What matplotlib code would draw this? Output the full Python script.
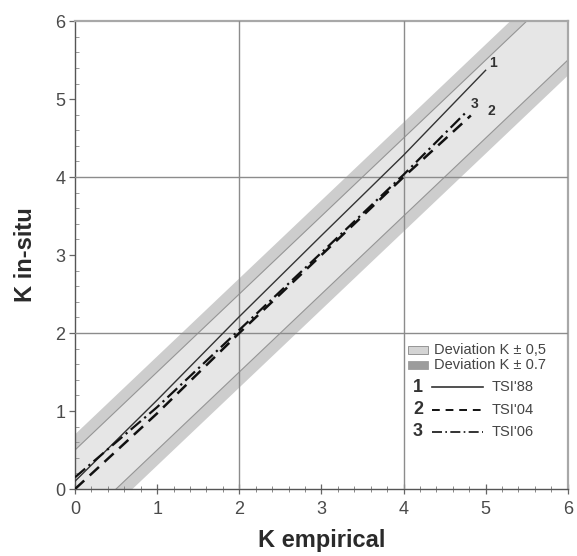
import numpy as np
import matplotlib.pyplot as plt
from matplotlib.patches import Rectangle
from matplotlib.ticker import MultipleLocator

plt.rcParams['font.family'] = ['Liberation Sans', 'DejaVu Sans']

# curvas K in-situ vs K empirico
k_emp_88 = [0.0, 1.0, 2.0, 3.0, 4.0, 5.0]
k_ins_88 = [0.10, 1.14, 2.21, 3.25, 4.28, 5.37]
k_emp_04 = [0.0, 1.0, 2.0, 3.0, 4.0, 4.82]
k_ins_04 = [0.0, 0.97, 2.0, 3.0, 4.0, 4.79]
k_emp_06 = [0.0, 1.0, 2.0, 3.0, 4.0, 4.76]
k_ins_06 = [0.15, 1.05, 2.04, 3.03, 4.03, 4.83]

desv_int = 0.5   # banda interior
desv_ext = 0.7   # banda exterior

etiquetas_banda = ['Deviation K ± 0,5', 'Deviation K ± 0.7']
etiquetas_curva = ["TSI'88", "TSI'04", "TSI'06"]
numeros = ['1', '2', '3']

fig = plt.figure(figsize=(5.77, 5.56), dpi=100)
ax = fig.add_axes([0.130, 0.1205, 0.854, 0.8415])

x = np.linspace(-1, 7, 50)
ax.fill_between(x, x - desv_ext, x + desv_ext, color='#cdcdcd', lw=0, zorder=1)
ax.fill_between(x, x - desv_int, x + desv_int, color='#e6e6e6', lw=0, zorder=1)
ax.plot(x, x + desv_int, color='#959595', lw=0.8, zorder=2)
ax.plot(x, x - desv_int, color='#959595', lw=0.8, zorder=2)

ax.plot(k_emp_88, k_ins_88, color='#333333', lw=1.0, ls='-', zorder=4)
ax.plot(k_emp_04, k_ins_04, color='#111111', lw=1.8, ls=(0, (5, 3)), zorder=4)
ax.plot(k_emp_06, k_ins_06, color='#111111', lw=1.6, ls=(0, (6, 2, 1, 2)), zorder=4)

# numeros al final de cada curva
ax.text(k_emp_88[-1] + 0.04, k_ins_88[-1] + 0.04, '1', fontsize=10, fontweight='bold', color='#333333', zorder=5)
ax.text(k_emp_06[-1] + 0.06, k_ins_06[-1] + 0.06, '3', fontsize=10, fontweight='bold', color='#333333', zorder=5)
ax.text(k_emp_04[-1] + 0.2, k_ins_04[-1] + 0.0, '2', fontsize=10, fontweight='bold', color='#333333', zorder=5)

ax.set_xlim(0, 6)
ax.set_ylim(0, 6)
ax.xaxis.set_major_locator(MultipleLocator(1))
ax.yaxis.set_major_locator(MultipleLocator(1))
ax.xaxis.set_minor_locator(MultipleLocator(0.2))
ax.yaxis.set_minor_locator(MultipleLocator(0.2))

for v in [2, 4]:
    ax.axvline(v, color='#8c8c8c', lw=1.0, zorder=3)
    ax.axhline(v, color='#8c8c8c', lw=1.0, zorder=3)

for s in ['top', 'right']:
    ax.spines[s].set_color('#a8a8a8')
    ax.spines[s].set_linewidth(1.6)
for s in ['left', 'bottom']:
    ax.spines[s].set_color('#555555')
    ax.spines[s].set_linewidth(1.0)

ax.tick_params(axis='x', which='major', direction='inout', length=7, width=0.9, colors='#666666',
               labelsize=13, labelcolor='#4a4a4a', pad=5)
ax.tick_params(axis='x', which='minor', direction='inout', length=4, width=0.7, colors='#888888')
ax.tick_params(axis='y', which='major', direction='out', length=4, width=0.9, colors='#666666',
               labelsize=13, labelcolor='#4a4a4a', pad=3)
ax.tick_params(axis='y', which='minor', direction='in', length=3, width=0.7, colors='#999999')

ax.set_xlabel('K empirical', fontsize=17, fontweight='bold', color='#2a2a2a', labelpad=8)
ax.set_ylabel('K in-situ', fontsize=17, fontweight='bold', color='#2a2a2a', labelpad=13)

# leyenda
colores_banda = ['#d4d4d4', '#9c9c9c']
bordes_banda = ['#888888', '#9c9c9c']
filas_banda = [0.297, 0.265]
for lab, fc, ec, fy in zip(etiquetas_banda, colores_banda, bordes_banda, filas_banda):
    ax.add_patch(Rectangle((0.675, fy - 0.008), 0.041, 0.016, transform=ax.transAxes,
                           facecolor=fc, edgecolor=ec, lw=0.6, zorder=6))
    ax.text(0.728, fy, lab, transform=ax.transAxes, fontsize=10.5, color='#444444',
            va='center', ha='left', zorder=6)

estilos = [dict(color='#333333', lw=1.2, ls='-'),
           dict(color='#111111', lw=1.4, ls=(0, (4, 3))),
           dict(color='#111111', lw=1.2, ls=(0, (6, 2, 1, 2)))]
filas_curva = [0.218, 0.169, 0.122]
for num, lab, est, fy in zip(numeros, etiquetas_curva, estilos, filas_curva):
    ax.text(0.696, fy, num, transform=ax.transAxes, fontsize=13, fontweight='bold',
            color='#333333', va='center', ha='center', zorder=6)
    ax.plot([0.724, 0.828], [fy, fy], transform=ax.transAxes, zorder=6, **est)
    ax.text(0.846, fy, lab, transform=ax.transAxes, fontsize=10.5, color='#444444',
            va='center', ha='left', zorder=6)

fig.savefig('out.png', dpi=100)
